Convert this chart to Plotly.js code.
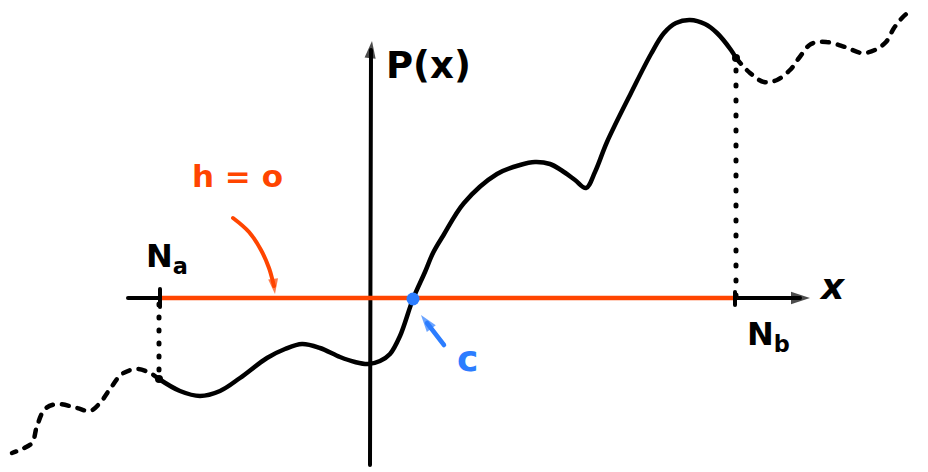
<!DOCTYPE html>
<html>
<head>
<meta charset="utf-8">
<script src="https://cdn.plot.ly/plotly-3.0.1.min.js"></script>
<style>
html,body{margin:0;padding:0;background:#fff;}
#chart{width:928px;height:472px;}
.scatterlayer .js-line{stroke-linecap:round;stroke-linejoin:round;}
</style>
</head>
<body>
<div id="chart"></div>
<script>
// Sketch coordinates (x to the right, y downward like the drawing)
// Main solid curve P(x) between Na and Nb
var curveX = [159,180,200,220,240,267,285,302,320,340,355,368,380,390,400,413,425,433,443,464,497,520,535,550,561,575,586,595,607,631,651,664,676,690,705,717,731,736];
var curveY = [379,391,396,391,378,358,349,344,348,357,362,364,361,354,336,299,272,253,236,203,174,165,162,164,170,180,188,172,142,93,54,33,23,20,24,33,50,58];
// Dashed continuation to the right of Nb
var rightX = [736,750,764,777,790,799,811,826,845,862,875,886,894,902,911];
var rightY = [58,73,82,80,70,58,44,42,47,53,50,42,28,18,10];
// Dashed continuation to the left of Na
var leftX = [159,150,137,122,110,100,90,77,57,45,37,32,22,12];
var leftY = [379,373,369,374,389,403,411,408,404,409,426,443,449,453];
// Axes (last point = arrow tip)
var xAxisX = [128, 800, 810];
var xAxisY = [298, 298, 298];
var yAxisX = [370, 371, 372];
var yAxisY = [465, 50, 41];
// Interval [Na, Nb] where h = 0
var hZeroX = [161, 735];
var hZeroY = [298, 298];
// Root c
var rootX = [413];
var rootY = [299];
// Dotted guides
var guideAX = [159, 159];
var guideAY = [304, 379];
var guideBX = [736, 736];
var guideBY = [296, 58];
// Ticks at Na and Nb
var tickAX = [160, 160];
var tickAY = [289, 307];
var tickBX = [735, 735];
var tickBY = [292, 305];
// Curved red pointer from label "h = o" (last point = arrow tip)
var pointerX = [233, 249, 261, 269, 273, 274, 275];
var pointerY = [218, 232, 250, 268, 282, 286, 294];
// Blue pointer to the root (last point = arrow tip)
var cPointerX = [444, 427, 421];
var cPointerY = [345, 323, 315];

var BLACK = '#000000';
var RED = '#FF4500';
var BLUE = '#2C7DFF';
var FONT = 'DejaVu Sans, sans-serif';

function head(xs, ys, color, size) {
  var n = xs.length;
  return {x: [xs[n-2], xs[n-1]], y: [ys[n-2], ys[n-1]], mode: 'markers',
    marker: {symbol: 'arrow', angleref: 'previous', size: [0, size], color: color, line: {width: 0}}};
}
function shaft(xs, ys) { return {x: xs.slice(0, xs.length - 1), y: ys.slice(0, ys.length - 1)}; }

var xs = shaft(xAxisX, xAxisY), ys = shaft(yAxisX, yAxisY);
var ps = shaft(pointerX, pointerY), cs = shaft(cPointerX, cPointerY);

var traces = [
  {x: xs.x, y: xs.y, mode: 'lines', line: {color: BLACK, width: 4}},
  head(xAxisX, xAxisY, BLACK, 20),
  {x: ys.x, y: ys.y, mode: 'lines', line: {color: BLACK, width: 4}},
  head(yAxisX, yAxisY, BLACK, 18),
  {x: leftX, y: leftY, mode: 'lines', line: {color: BLACK, width: 4.5, dash: '7px,9px', shape: 'spline', smoothing: 1}},
  {x: rightX, y: rightY, mode: 'lines', line: {color: BLACK, width: 4.5, dash: '7px,9px', shape: 'spline', smoothing: 1}},
  {x: guideAX, y: guideAY, mode: 'lines', line: {color: BLACK, width: 5, dash: '1px,12px'}},
  {x: guideBX, y: guideBY, mode: 'lines', line: {color: BLACK, width: 5, dash: '1px,14px'}},
  {x: curveX, y: curveY, mode: 'lines', line: {color: BLACK, width: 4.5, shape: 'spline', smoothing: 1}},
  {x: hZeroX, y: hZeroY, mode: 'lines', line: {color: RED, width: 4.5}},
  {x: tickAX, y: tickAY, mode: 'lines', line: {color: BLACK, width: 4}},
  {x: tickBX, y: tickBY, mode: 'lines', line: {color: BLACK, width: 4}},
  {x: ps.x, y: ps.y, mode: 'lines', line: {color: RED, width: 4, shape: 'spline', smoothing: 1}},
  head(pointerX, pointerY, RED, 16),
  {x: cs.x, y: cs.y, mode: 'lines', line: {color: BLUE, width: 4.5}},
  head(cPointerX, cPointerY, BLUE, 18),
  {x: [curveX[0], curveX[curveX.length-1]], y: [curveY[0], curveY[curveY.length-1]], mode: 'markers', marker: {color: BLACK, size: 8}},
  {x: rootX, y: rootY, mode: 'markers', marker: {color: BLUE, size: 13}}
];

var annotations = [
  {x: 428, y: 65, xref: 'x', yref: 'y', text: 'P(x)', showarrow: false, font: {family: FONT, size: 37, color: BLACK, weight: 'bold'}},
  {x: 237, y: 176, xref: 'x', yref: 'y', text: 'h = o', showarrow: false, font: {family: FONT, size: 31, color: RED, weight: 'bold'}},
  {x: 167, y: 258, xref: 'x', yref: 'y', text: 'N<sub>a</sub>', showarrow: false, font: {family: FONT, size: 32, color: BLACK, weight: 'bold'}},
  {x: 768, y: 336, xref: 'x', yref: 'y', text: 'N<sub>b</sub>', showarrow: false, font: {family: FONT, size: 32, color: BLACK, weight: 'bold'}},
  {x: 832, y: 286, xref: 'x', yref: 'y', text: '<i>x</i>', showarrow: false, font: {family: FONT, size: 36, color: BLACK, weight: 'bold'}},
  {x: 467, y: 358, xref: 'x', yref: 'y', text: 'c', showarrow: false, font: {family: FONT, size: 36, color: BLUE, weight: 'bold'}}
];

var layout = {
  width: 928, height: 472,
  margin: {l: 0, r: 0, t: 0, b: 0},
  paper_bgcolor: '#ffffff', plot_bgcolor: '#ffffff',
  showlegend: false,
  xaxis: {range: [0, 928], visible: false, showgrid: false, zeroline: false, fixedrange: true},
  yaxis: {range: [472, 0], visible: false, showgrid: false, zeroline: false, fixedrange: true},
  annotations: annotations
};

Plotly.newPlot('chart', traces, layout, {displayModeBar: false, staticPlot: true});
</script>
</body>
</html>
